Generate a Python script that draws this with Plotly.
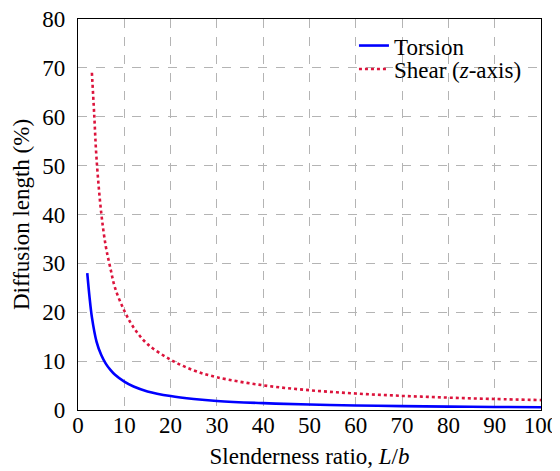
import plotly.graph_objects as go

torsion_x = [2, 2.5, 3, 4, 5, 6, 7, 8, 10, 12, 15, 20, 25, 30, 40, 50, 60, 70, 80, 90, 100]
torsion_y = [28, 23, 19, 14, 11.3, 9.5, 8.2, 7.2, 5.8, 4.8, 3.8, 2.85, 2.25, 1.85, 1.4, 1.12, 0.93, 0.8, 0.7, 0.62, 0.56]

shear_x = [3, 3.5, 4, 5, 6, 7, 8, 10, 12, 15, 20, 25, 30, 40, 50, 60, 70, 80, 90, 100]
shear_y = [69, 60.5, 51.5, 40.5, 33.5, 29, 25, 20.3, 16.9, 13.5, 10.3, 8.1, 6.7, 5.05, 4.05, 3.37, 2.9, 2.53, 2.25, 2.03]

x_ticks = [0, 10, 20, 30, 40, 50, 60, 70, 80, 90, 100]
y_ticks = [0, 10, 20, 30, 40, 50, 60, 70, 80]

font = "Liberation Serif, Times New Roman, serif"
fs = 23

fig = go.Figure()
fig.add_trace(go.Scatter(x=torsion_x, y=torsion_y, mode="lines", name="Torsion",
                         line=dict(color="#0000ff", width=2.6, shape="spline"), legend="legend"))
fig.add_trace(go.Scatter(x=shear_x, y=shear_y, mode="lines", name="Shear (<i>z</i>-axis)",
                         line=dict(color="#dc143c", width=2.6, dash="3px,3px", shape="spline"), legend="legend2"))

axis_common = dict(showline=True, linecolor="black", linewidth=1.2, mirror=True,
                   showgrid=True, gridcolor="#b4b4b4", griddash="dash", gridwidth=1,
                   zeroline=False, ticks="", automargin=False, ticklabeloverflow="allow",
                   tickfont=dict(family=font, size=fs, color="black"))

fig.update_xaxes(range=[0, 100], tickvals=x_ticks, ticklabelstandoff=-6,
                 title=dict(text="Slenderness ratio, <i>L</i>/<i>b</i>", font=dict(family=font, size=fs, color="black"), standoff=11),
                 **axis_common)
fig.update_yaxes(range=[0, 80], tickvals=y_ticks, ticklabelstandoff=7,
                 title=dict(text="Diffusion length (%)", font=dict(family=font, size=fs, color="black"), standoff=6),
                 **axis_common)

leg_common = dict(xanchor="left", yanchor="top", bgcolor="rgba(255,255,255,0)",
                  borderwidth=0, font=dict(family=font, size=fs), itemwidth=30)

fig.update_layout(
    width=552, height=463,
    margin=dict(l=70, r=19, t=11, b=61),
    plot_bgcolor="white", paper_bgcolor="white",
    font=dict(family=font, size=fs, color="black"),
    legend=dict(x=0.596, y=0.987, **leg_common),
    legend2=dict(x=0.596, y=0.927, **leg_common),
    showlegend=True,
)

fig.write_html("out.html")
